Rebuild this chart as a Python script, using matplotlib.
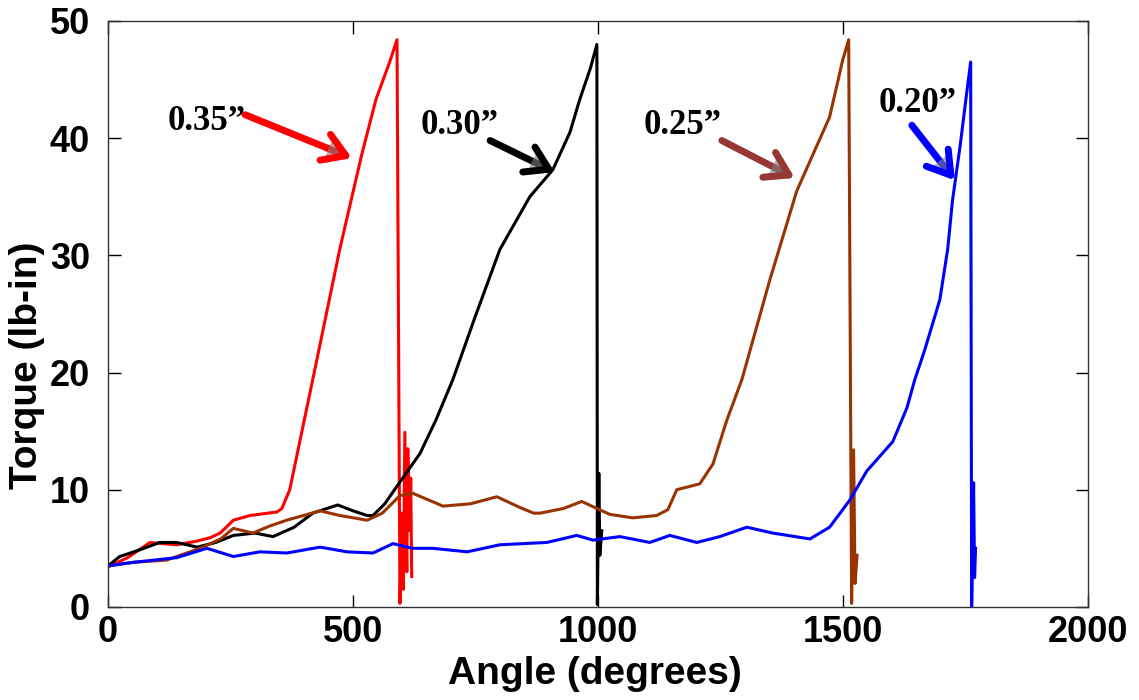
import matplotlib
matplotlib.use("Agg")
import matplotlib.pyplot as plt
import matplotlib.patheffects as pe

# Torque vs angle for four settings
red_x = [0, 40, 86, 140, 180, 208, 229, 256, 290, 345, 355, 371, 392, 418, 473, 518, 547, 575, 590,
         596, 600, 603, 606, 610, 612, 616, 618, 620]
red_y = [3.4, 4.2, 5.5, 5.3, 5.6, 5.9, 6.3, 7.4, 7.8, 8.1, 8.4, 10.0, 14.2, 19.4, 30.5, 38.6, 43.3, 46.5, 48.4,
         0.3, 8.0, 1.5, 14.9, 3.0, 13.5, 6.5, 11.0, 2.6]

black_x = [0, 24, 60, 106, 140, 182, 220, 256, 300, 337, 380, 418, 469, 500, 529, 541, 565, 590, 637,
           670, 704, 749, 800, 861, 908, 943, 963, 985, 998, 999, 1002, 1004, 1008]
black_y = [3.5, 4.3, 4.8, 5.5, 5.5, 5.1, 5.5, 6.1, 6.3, 6.0, 6.8, 8.0, 8.7, 8.2, 7.8, 7.8, 8.8, 10.3, 13.1,
           16.0, 19.4, 24.7, 30.5, 35.0, 37.3, 40.5, 43.3, 46.0, 48.0, 0.2, 11.4, 4.4, 6.5]

brown_x = [0, 51, 120, 188, 230, 256, 296, 330, 365, 433, 473, 529, 560, 596, 622, 684, 740, 794, 840, 869, 882,
           930, 967, 1024, 1071, 1120, 1143, 1161, 1208, 1235, 1263, 1294, 1351, 1406, 1473, 1500, 1512,
           1518, 1522, 1525, 1529]
brown_y = [3.5, 3.8, 4.0, 5.0, 5.8, 6.7, 6.3, 6.9, 7.4, 8.2, 7.8, 7.4, 8.0, 9.5, 9.7, 8.6, 8.8, 9.4, 8.5, 8.0, 8.0,
           8.4, 9.0, 7.9, 7.6, 7.8, 8.3, 10.0, 10.5, 12.2, 15.9, 19.4, 27.9, 35.5, 41.8, 46.7, 48.4,
           0.3, 13.4, 2.0, 4.4]

blue_x = [0, 51, 140, 202, 256, 310, 365, 433, 488, 541, 582, 622, 663, 733, 800, 896,
          957, 990, 1045, 1106, 1147, 1202, 1249, 1304, 1357, 1433, 1473, 1514, 1549, 1602,
          1631, 1647, 1667, 1698, 1714, 1724, 1740, 1753, 1761, 1763, 1767, 1769, 1771]
blue_y = [3.5, 3.8, 4.2, 5.0, 4.3, 4.7, 4.6, 5.1, 4.7, 4.6, 5.4, 5.0, 5.0, 4.7, 5.3, 5.5,
          6.1, 5.7, 6.0, 5.5, 6.1, 5.5, 6.0, 6.8, 6.3, 5.8, 6.8, 9.1, 11.6, 14.1,
          17.0, 19.4, 21.9, 26.2, 30.5, 34.7, 39.5, 43.9, 46.5, 0.0, 10.6, 2.5, 5.0]

labels = ['0.35\u201d', '0.30\u201d', '0.25\u201d', '0.20\u201d']
label_xy = [(202, 41.4), (718, 41.1), (1173, 41.1), (1653, 43.0)]
arrow_tail = [(280, 42.0), (780, 39.8), (1253, 39.8), (1641, 41.1)]
arrow_head = [(498, 38.3), (912, 37.1), (1402, 36.6), (1729, 36.4)]
arrow_col = ['#ff0000', '#000000', '#953735', '#0000ff']

fig = plt.figure(figsize=(11.39, 7.0), dpi=100)
ax = fig.add_axes([0.0948, 0.133, 0.8602, 0.837])

ax.plot(red_x, red_y, color='#ff0000', lw=2.2)
ax.plot(black_x, black_y, color='#000000', lw=2.2)
ax.plot(brown_x, brown_y, color='#993300', lw=2.2)
ax.plot(blue_x, blue_y, color='#0000ff', lw=2.2)

shadow = [pe.withSimplePatchShadow(offset=(2, -2), shadow_rgbFace='0.5', alpha=0.6)]
for lab, lxy, t, h, c in zip(labels, label_xy, arrow_tail, arrow_head, arrow_col):
    ax.text(lxy[0], lxy[1], lab, ha='center', va='center', fontsize=25,
            fontweight='bold', family=['Liberation Serif', 'DejaVu Serif'])
    an = ax.annotate('', xy=h, xytext=t,
                     arrowprops=dict(arrowstyle='->,head_length=0.8,head_width=0.5',
                                     mutation_scale=20, color=c, lw=5,
                                     shrinkA=0, shrinkB=0))
    an.arrow_patch.set_path_effects(shadow)

ax.set_xlim(0, 2000)
ax.set_ylim(0, 50)
ax.set_xticks([0, 500, 1000, 1500, 2000])
ax.set_yticks([0, 10, 20, 30, 40, 50])

font = ['Liberation Sans Narrow', 'Liberation Sans', 'DejaVu Sans']
ax.tick_params(direction='in', length=9, width=1, top=True, right=True, labelsize=26)
ax.tick_params(axis='x', pad=6)
ax.tick_params(axis='y', pad=13)
for lbl in ax.get_xticklabels() + ax.get_yticklabels():
    lbl.set_family(font)
    lbl.set_fontweight('bold')
ax.set_xlabel('Angle (degrees)', fontsize=28, fontweight='bold', family=font)
ax.set_ylabel('Torque (lb-in)', fontsize=28, fontweight='bold', family=font)
ax.xaxis.set_label_coords(0.497, -0.083)
ax.yaxis.set_label_coords(-0.064, 0.413)
for s in ax.spines.values():
    s.set_linewidth(1)
    s.set_color('#333333')

fig.savefig('out.png', dpi=100)
